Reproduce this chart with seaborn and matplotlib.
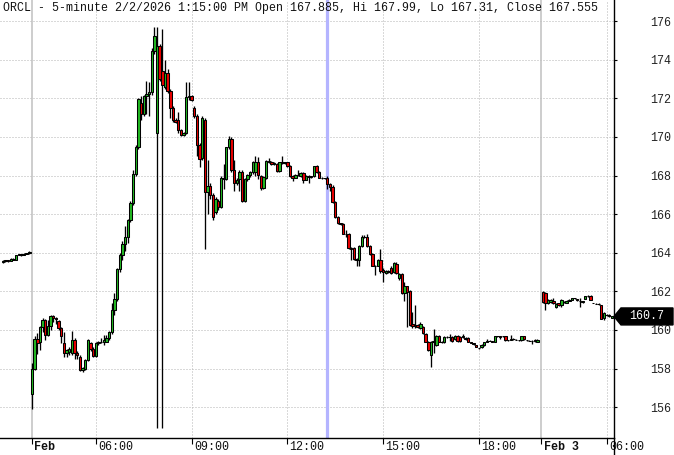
import matplotlib
matplotlib.use("Agg")
import matplotlib.pyplot as plt
import seaborn as sns
import pandas as pd
from matplotlib.patches import Polygon
from matplotlib.lines import Line2D

sns.set_theme(style="white")
plt.rcParams['font.family'] = ['Liberation Mono', 'DejaVu Sans Mono']

symbol = "ORCL"
interval = "5-minute"
hover_time = "2/2/2026 1:15:00 PM"
hover_bar = 111  # slot index of the highlighted bar (13:15 on Feb 2)

# session layout: first slot index and bar count per session
session_start = [-11, 0, 192]
session_len = [11, 191, 27]

# ---- OHLC values (prior evening, Feb 2, Feb 3) ----
opens = [
    163.50, 163.55, 163.60, 163.58, 163.70, 163.65, 163.88, 163.92, 163.88, 163.95, 163.98,
    156.7, 158.0, 159.55, 159.4, 160.15, 160.5, 159.75, 160.2, 160.7, 160.6,
    160.45, 160.1, 159.3, 158.8, 158.85, 158.8, 159.5, 158.8, 158.6, 157.95,
    158.0, 158.45, 159.3, 159.0, 158.65, 159.3, 159.35, 159.4, 159.4, 159.57,
    159.88, 161.03, 161.59, 163.14, 163.88, 164.45, 164.8, 165.7, 166.6, 168.1,
    169.48, 171.75, 171.2, 172.1, 172.25, 172.35, 174.48, 170.2, 174.74, 173.4,
    172.6, 173.3, 172.4, 171.5, 170.9, 170.86, 170.34, 170.1, 170.2, 172.07,
    172.15, 171.5, 171.1, 169.6, 168.9, 170.9, 167.16, 167.45, 167.0, 166.1,
    166.7, 166.35, 167.8, 167.8, 169.48, 169.9, 168.3, 167.6, 167.8, 168.2,
    166.7, 167.8, 168.05, 168.2, 168.2, 168.7, 168.0, 167.35, 167.9, 168.75,
    168.7, 168.6, 168.6, 168.25, 168.68, 168.65, 168.68, 168.5, 168.0, 167.88,
    168.05, 168.0, 168.15, 167.78, 168.0, 167.95, 167.98, 168.48, 168.2, 167.9,
    167.87, 167.885, 167.555, 167.43, 166.65, 165.87, 165.53, 165.5, 164.98, 164.95,
    164.24, 164.24, 163.67, 163.6, 164.36, 164.84, 164.84, 164.36, 163.95, 163.33,
    163.33, 163.64, 163.1, 162.95, 163.05, 163.2, 163.0, 163.44, 162.7, 162.9,
    161.9, 162.26, 162.0, 160.3, 160.2, 160.25, 160.1, 160.17, 159.8, 159.4,
    158.7, 159.4, 159.2, 159.7, 159.4, 159.35, 159.65, 159.62, 159.65, 159.55,
    159.7, 159.65, 159.65, 159.6, 159.6, 159.38, 159.3, 159.2, 159.05, 159.1,
    159.2, 159.4, 159.45, 159.42, 159.4, 159.68, 159.68, 159.68, 159.68, 159.48,
    159.5, 159.55, 159.5, 159.48, 159.48, 159.68, 159.48, 159.45, 159.44, 159.5,
    159.38,
    161.97, 161.9, 161.4, 161.45, 161.5, 161.2, 161.4, 161.3, 161.45, 161.4,
    161.52, 161.55, 161.64, 161.6, 161.52, 161.45, 161.6, 161.75, 161.78, 161.4,
    161.37, 161.37, 161.27, 160.6, 160.8, 160.8, 160.62,
]
highs = [
    163.62, 163.64, 163.63, 163.73, 163.72, 163.90, 163.95, 163.93, 163.98, 164.01, 164.07,
    158.3, 159.7, 159.85, 160.2, 160.6, 160.55, 160.5, 160.75, 160.78, 160.65,
    160.5, 160.15, 159.9, 159.0, 159.1, 159.95, 159.6, 158.9, 158.7, 158.1,
    158.5, 159.55, 159.4, 159.1, 159.35, 159.45, 159.6, 159.75, 159.75, 159.95,
    161.4, 161.9, 163.2, 164.0, 164.6, 165.4, 165.75, 166.7, 168.3, 169.6,
    172.0, 172.1, 172.2, 172.9, 172.85, 174.6, 175.7, 175.7, 174.8, 175.6,
    174.0, 173.5, 172.5, 171.6, 171.0, 171.3, 170.4, 170.25, 172.85, 172.85,
    172.2, 171.6, 171.2, 169.7, 171.1, 171.0, 168.8, 167.6, 167.1, 166.9,
    166.8, 168.0, 168.6, 169.5, 170.05, 170.0, 168.8, 167.85, 168.3, 168.3,
    167.9, 168.1, 168.25, 168.75, 169.0, 168.95, 168.05, 168.0, 168.8, 168.9,
    168.75, 168.7, 168.65, 168.7, 169.0, 168.7, 168.72, 168.55, 168.05, 168.1,
    168.3, 168.2, 168.2, 168.05, 168.05, 168.0, 168.5, 168.55, 168.25, 167.95,
    167.9, 167.99, 167.6, 167.5, 166.7, 165.9, 165.55, 165.55, 165.2, 165.0,
    164.3, 164.3, 163.75, 164.4, 164.9, 164.9, 164.95, 164.4, 164.0, 163.35,
    163.7, 164.2, 163.2, 163.1, 163.1, 163.3, 163.5, 163.5, 162.95, 162.95,
    162.5, 162.3, 162.05, 160.94, 161.3, 160.3, 160.4, 160.2, 159.85, 159.45,
    159.45, 160.03, 159.75, 159.75, 159.45, 159.7, 159.7, 159.8, 159.68, 159.75,
    159.72, 159.7, 159.8, 159.65, 159.62, 159.4, 159.32, 159.22, 159.08, 159.25,
    159.4, 159.55, 159.48, 159.45, 159.7, 159.7, 159.7, 159.7, 159.7, 159.5,
    159.75, 159.58, 159.52, 159.5, 159.7, 159.7, 159.5, 159.47, 159.46, 159.52,
    159.55,
    162.0, 161.95, 161.6, 161.6, 161.65, 161.4, 161.42, 161.6, 161.48, 161.55,
    161.6, 161.68, 161.67, 161.62, 161.65, 161.5, 161.78, 161.8, 161.8, 161.42,
    161.39, 161.38, 161.3, 160.95, 160.85, 160.82, 160.72,
]
lows = [
    163.46, 163.53, 163.54, 163.56, 163.63, 163.63, 163.86, 163.84, 163.86, 163.93, 163.96,
    155.9, 157.9, 158.75, 158.95, 159.9, 159.5, 159.7, 160.0, 160.4, 160.3,
    160.0, 159.3, 158.6, 158.6, 158.7, 158.7, 158.5, 158.5, 157.85, 157.8,
    157.95, 158.4, 158.9, 158.6, 158.6, 159.2, 159.3, 159.2, 159.35, 159.5,
    159.8, 160.8, 161.5, 163.0, 163.6, 164.1, 164.5, 165.6, 166.5, 168.0,
    169.4, 170.9, 171.1, 171.2, 171.1, 172.2, 174.3, 154.9, 172.9, 154.9,
    172.5, 172.3, 171.0, 170.8, 170.7, 170.2, 170.05, 170.05, 170.15, 171.9,
    171.85, 171.0, 169.0, 168.45, 168.8, 164.2, 166.0, 166.8, 165.7, 166.0,
    166.2, 166.3, 167.3, 167.75, 169.4, 168.2, 167.2, 167.5, 167.2, 166.65,
    166.65, 167.7, 167.95, 168.1, 168.0, 167.8, 167.25, 167.3, 167.8, 168.65,
    168.55, 168.55, 168.2, 168.2, 168.6, 168.6, 168.45, 167.95, 167.7, 167.85,
    168.0, 167.95, 167.6, 167.75, 167.6, 167.9, 167.95, 168.15, 167.85, 167.82,
    167.82, 167.31, 167.2, 166.6, 165.8, 165.5, 165.45, 164.95, 164.8, 164.2,
    163.6, 163.65, 163.3, 163.3, 164.3, 164.75, 164.3, 163.9, 163.3, 162.85,
    163.3, 162.95, 162.5, 162.9, 162.95, 162.9, 162.95, 162.9, 162.6, 161.85,
    161.5, 160.15, 160.2, 160.1, 160.1, 160.1, 160.05, 159.8, 159.35, 158.9,
    158.1, 158.8, 159.15, 159.35, 159.3, 159.3, 159.6, 159.45, 159.35, 159.5,
    159.4, 159.4, 159.6, 159.5, 159.35, 159.3, 159.2, 159.1, 159.0, 159.05,
    159.15, 159.35, 159.42, 159.35, 159.38, 159.65, 159.55, 159.65, 159.45, 159.45,
    159.48, 159.5, 159.48, 159.45, 159.45, 159.5, 159.45, 159.42, 159.28, 159.4,
    159.35,
    161.4, 161.05, 161.35, 161.4, 161.35, 161.15, 161.25, 161.2, 161.4, 161.38,
    161.5, 161.53, 161.6, 161.5, 161.18, 161.38, 161.58, 161.7, 161.53, 161.38,
    161.35, 161.3, 160.55, 160.5, 160.7, 160.68, 160.6,
]
closes = [
    163.55, 163.60, 163.56, 163.70, 163.65, 163.88, 163.92, 163.86, 163.95, 163.98, 164.05,
    158.0, 159.55, 159.3, 160.15, 160.5, 159.75, 160.2, 160.7, 160.6, 160.55,
    160.1, 159.7, 158.8, 158.95, 159.0, 159.5, 158.8, 158.7, 157.95, 158.05,
    158.45, 159.5, 159.0, 158.65, 159.3, 159.4, 159.4, 159.5, 159.57, 159.88,
    161.03, 161.59, 163.14, 163.88, 164.45, 164.8, 165.69, 166.6, 168.1, 169.48,
    171.98, 171.2, 172.1, 172.25, 172.35, 174.48, 175.26, 174.7, 173.0, 172.7,
    173.3, 172.4, 171.5, 170.9, 170.8, 170.34, 170.1, 170.2, 172.07, 172.15,
    171.9, 171.1, 169.6, 168.88, 171.0, 167.16, 167.45, 167.0, 165.83, 166.8,
    166.35, 167.9, 167.9, 169.48, 169.9, 168.3, 167.6, 167.75, 168.2, 166.7,
    167.8, 168.05, 168.2, 168.7, 168.7, 168.05, 167.35, 167.95, 168.77, 168.7,
    168.6, 168.65, 168.25, 168.68, 168.65, 168.68, 168.5, 168.0, 167.88, 168.05,
    168.05, 168.15, 167.78, 168.0, 167.95, 167.98, 168.48, 168.2, 167.9, 167.87,
    167.86, 167.555, 167.43, 166.65, 165.87, 165.53, 165.5, 164.98, 164.95, 164.24,
    164.2, 163.67, 163.6, 164.36, 164.84, 164.8, 164.36, 163.95, 163.33, 163.3,
    163.64, 163.03, 163.0, 163.05, 163.0, 162.95, 163.47, 162.95, 162.9, 161.9,
    162.3, 161.97, 160.26, 160.2, 160.25, 160.15, 160.3, 159.86, 159.4, 158.97,
    159.4, 159.45, 159.7, 159.4, 159.35, 159.65, 159.62, 159.65, 159.45, 159.7,
    159.45, 159.45, 159.68, 159.55, 159.38, 159.32, 159.25, 159.12, 159.05, 159.2,
    159.35, 159.42, 159.45, 159.4, 159.68, 159.68, 159.65, 159.68, 159.48, 159.48,
    159.52, 159.55, 159.5, 159.47, 159.68, 159.52, 159.47, 159.44, 159.44, 159.42,
    159.5,
    161.44, 161.4, 161.57, 161.57, 161.38, 161.37, 161.28, 161.57, 161.43, 161.52,
    161.57, 161.66, 161.66, 161.55, 161.52, 161.48, 161.75, 161.78, 161.55, 161.4,
    161.37, 161.32, 160.58, 160.87, 160.75, 160.7, 160.7,
]

# x-axis labels: slot position, text, bold
tick_pos = [-0.1, 24, 60, 96, 132, 168, 191.5, 216]
tick_text = ["Feb", "06:00", "09:00", "12:00", "15:00", "18:00", "Feb 3", "06:00"]
tick_bold = [True, False, False, False, False, False, True, False]
day_lines = [-0.1, 191.5]
price_ticks = list(range(156, 177, 2))

# ---- build table ----
slots = []
for s, n in zip(session_start, session_len):
    slots += list(range(s, s + n))
df = pd.DataFrame({"slot": slots, "open": opens, "high": highs,
                   "low": lows, "close": closes})
df["bottom"] = df[["open", "close"]].min(axis=1)
df["height"] = (df["close"] - df["open"]).abs()
GREEN, RED = "#22b822", "#e80000"
df["color"] = [GREEN if c >= o else RED for o, c in zip(df["open"], df["close"])]

W, H = 674, 455
fig = plt.figure(figsize=(W / 100, H / 100), dpi=100)
fig.patch.set_facecolor("white")
ax = fig.add_axes([0, 17 / H, 614 / W, 438 / H])
ax.set_facecolor("white")

ax.set_xlim(-12.03, 218.8)
ax.set_ylim(154.40, 177.10)

# grid
for p in price_ticks:
    ax.axhline(p, color="#b5b5b5", lw=0.72, ls=(0, (1, 2)), zorder=0)
for p, t in zip(tick_pos, tick_text):
    if p in day_lines:
        ax.axvline(p, color="#c0c0c0", lw=1.1, zorder=0)
    else:
        ax.axvline(p, color="#b5b5b5", lw=0.72, ls=(0, (1, 2)), zorder=0)

# highlighted bar
ax.axvline(hover_bar, color="#b4b4ff", lw=2.3, zorder=1)

# candles
ax.vlines(df["slot"], df["low"], df["high"], color="black", lw=0.95, zorder=2)
ax.bar(df["slot"], df["height"], bottom=df["bottom"], width=0.9,
       color=df["color"], edgecolor="black", linewidth=0.75, zorder=3)

# spines
sns.despine(ax=ax, left=True, top=True, right=False, bottom=False)
ax.spines["right"].set_color("black")
ax.spines["right"].set_linewidth(1.0)
ax.spines["bottom"].set_color("black")
ax.spines["bottom"].set_linewidth(1.0)
fig.add_artist(Line2D([614 / W, 614 / W], [0, 17 / H], color="black", lw=1.0))

# y axis on right
ax.yaxis.tick_right()
ax.set_yticks(price_ticks)
ax.set_yticklabels([str(p) for p in price_ticks])
ax.tick_params(axis="y", which="both", right=True, left=False, length=2.3,
               width=0.8, color="black", pad=23.5, labelsize=8.4,
               labelcolor="#222222")

# x axis ticks + labels
ax.set_xticks(tick_pos)
ax.set_xticklabels([""] * len(tick_pos))
ax.tick_params(axis="x", bottom=True, length=4.3, width=0.8, color="black")
for p, t, b in zip(tick_pos, tick_text, tick_bold):
    ax.annotate(t, xy=(p, 0), xycoords=("data", "axes fraction"),
                xytext=(1.6, -2.2), textcoords="offset points",
                ha="left", va="top", fontsize=8.4,
                fontweight="bold" if b else "normal", color="#111111",
                annotation_clip=False)

# title (values of the highlighted bar)
k = slots.index(hover_bar)
title = (f"{symbol} - {interval} {hover_time} Open {opens[k]:g}, "
         f"Hi {highs[k]:g}, Lo {lows[k]:g}, Close {closes[k]:g}")
fig.text(3 / W, 1 - 8 / H, title, ha="left", va="center", fontsize=8.4,
         color="#111111")

# last price marker
last = closes[-1]
tr = ax.get_yaxis_transform()
hh = 0.44
poly = Polygon([(1.0, last), (1.0 + 7 / 614, last + hh), (673 / 614, last + hh),
                (673 / 614, last - hh), (1.0 + 7 / 614, last - hh)],
               closed=True, transform=tr, facecolor="black", edgecolor="black",
               clip_on=False, zorder=6)
ax.add_patch(poly)
ax.text(647 / 614, last, f"{last:g}", transform=tr, ha="center", va="center",
        color="white", fontsize=8.4, zorder=7, clip_on=False)

fig.savefig("out.png", dpi=100)
